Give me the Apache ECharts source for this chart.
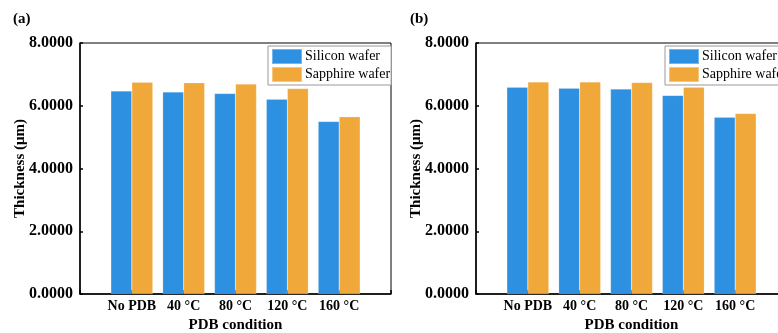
<!DOCTYPE html>
<html>
<head>
<meta charset="utf-8">
<script src="https://cdn.jsdelivr.net/npm/echarts@6/dist/echarts.min.js"></script>
<style>
html,body{margin:0;padding:0;background:#fff;}
#chart{width:778px;height:333px;}
</style>
</head>
<body>
<div id="chart"></div>
<script>
var categories = ['', 'No PDB', '40 °C', '80 °C', '120 °C', '160 °C', ''];
var siliconA = [null, 6.47, 6.44, 6.39, 6.21, 5.50, null];
var sapphireA = [null, 6.75, 6.73, 6.69, 6.55, 5.65, null];
var siliconB = [null, 6.59, 6.56, 6.53, 6.33, 5.63, null];
var sapphireB = [null, 6.76, 6.76, 6.74, 6.59, 5.75, null];
var yTicks = [0, 2, 4, 6, 8];

var font = '"Liberation Serif", "Times New Roman", serif';
var blue = '#2E90E0';
var orange = '#F0A83A';

function xAxis(idx) {
  return {
    type: 'category',
    gridIndex: idx,
    data: categories,
    boundaryGap: false,
    name: 'PDB condition',
    nameLocation: 'middle',
    nameGap: 22,
    nameTextStyle: {fontFamily: font, fontWeight: 'bold', fontSize: 15, color: '#000'},
    axisLine: {lineStyle: {color: '#000', width: 1.5}},
    axisTick: {inside: true, length: 4, lineStyle: {color: '#000', width: 1.5}},
    axisLabel: {interval: 0, margin: 5, fontFamily: font, fontWeight: 'bold', fontSize: 14, color: '#000'},
    splitLine: {show: false}
  };
}

function yAxis(idx) {
  return {
    type: 'value',
    gridIndex: idx,
    min: yTicks[0],
    max: yTicks[yTicks.length - 1],
    interval: 2,
    name: 'Thickness (μm)',
    nameLocation: 'middle',
    nameGap: 52,
    nameMoveOverlap: false,
    nameTextStyle: {fontFamily: font, fontWeight: 'bold', fontSize: 15, color: '#000'},
    axisLine: {show: true, lineStyle: {color: '#000', width: 1.5}},
    axisTick: {show: true, inside: true, length: 3, lineStyle: {color: '#000', width: 1.5}},
    axisLabel: {margin: 7, fontFamily: font, fontWeight: 'bold', fontSize: 16, color: '#000',
      formatter: function (v) { return v.toFixed(4); }},
    splitLine: {show: false}
  };
}

function bars(name, data, color, idx) {
  return {
    name: name,
    type: 'bar',
    xAxisIndex: idx,
    yAxisIndex: idx,
    data: data,
    barWidth: 21,
    barGap: '0%',
    itemStyle: {color: color, borderColor: 'rgba(255,255,255,0.35)', borderWidth: 0.5}
  };
}

function legend(left) {
  return {
    left: left,
    top: 46,
    orient: 'vertical',
    itemWidth: 30,
    itemHeight: 15,
    itemGap: 1,
    padding: [2, 1, 2, 3],
    borderColor: '#999',
    borderWidth: 1,
    backgroundColor: '#fff',
    icon: 'rect',
    textStyle: {fontFamily: font, fontSize: 14, color: '#000', padding: [0, 0, 0, -2]},
    data: ['Silicon wafer', 'Sapphire wafer']
  };
}

var chart = echarts.init(document.getElementById('chart'));
chart.setOption({
  animation: false,
  title: [
    {text: '(a)', left: 8, top: 7, textStyle: {fontFamily: font, fontWeight: 'bold', fontSize: 15, color: '#000'}},
    {text: '(b)', left: 405, top: 7, textStyle: {fontFamily: font, fontWeight: 'bold', fontSize: 15, color: '#000'}}
  ],
  legend: [
    legend(268),
    legend(665)
  ],
  grid: [
    {left: 80, width: 311, top: 43, height: 251, outerBoundsMode: 'none', containLabel: false,
      show: true, borderColor: '#000', borderWidth: 1},
    {left: 476, width: 311, top: 43, height: 251, outerBoundsMode: 'none', containLabel: false,
      show: true, borderColor: '#000', borderWidth: 1}
  ],
  xAxis: [xAxis(0), xAxis(1)],
  yAxis: [yAxis(0), yAxis(1)],
  series: [
    bars('Silicon wafer', siliconA, blue, 0),
    bars('Sapphire wafer', sapphireA, orange, 0),
    bars('Silicon wafer', siliconB, blue, 1),
    bars('Sapphire wafer', sapphireB, orange, 1)
  ]
});
</script>
</body>
</html>
